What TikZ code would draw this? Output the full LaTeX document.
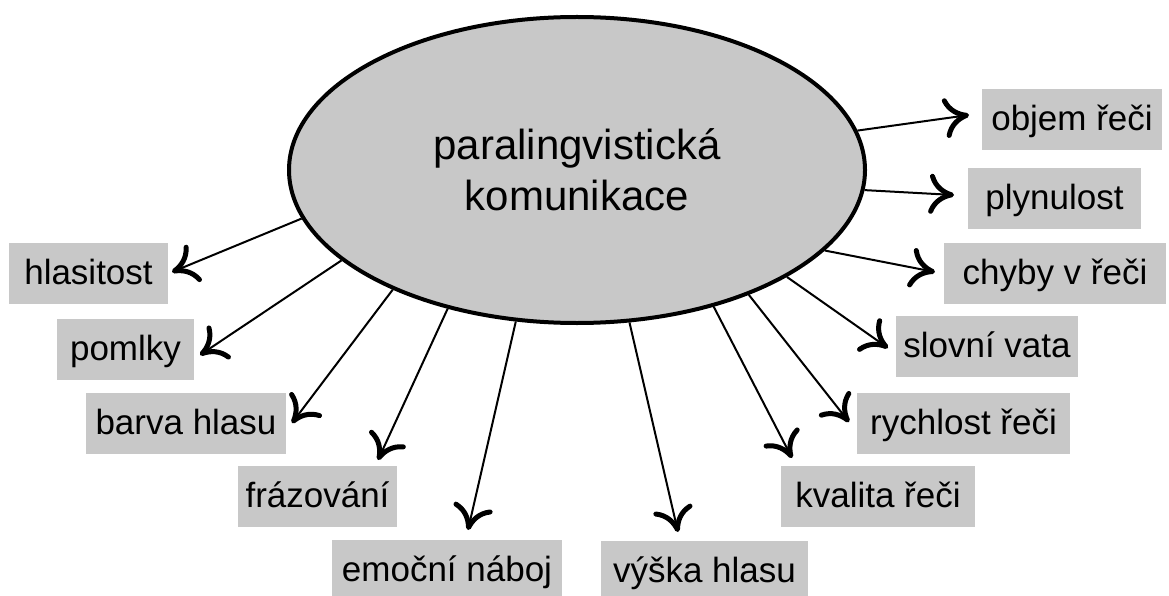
\documentclass[tikz,border=0pt]{standalone}
\usepackage{fontspec}
\setmainfont{Liberation Sans}
\usetikzlibrary{shapes.geometric}
\usetikzlibrary{arrows.meta}
\definecolor{boxgray}{RGB}{200,200,200}

\begin{document}
\begin{tikzpicture}[
    x=1pt, y=-1pt,
    tag/.style={fill=boxgray, inner sep=0pt, minimum height=61pt,
        text height=27pt, text depth=5pt, font=\fontsize{35}{42}\selectfont},
    link/.style={line width=2pt, -{Computer Modern Rightarrow[length=25pt, width=40pt, line width'=5pt]}},
]
    \useasboundingbox (0,0) rectangle (1169,596);

    % central ellipse
    \node[ellipse, draw, line width=4pt, fill=boxgray, inner sep=0pt,
          minimum width=576pt, minimum height=306pt, align=center,
          font=\fontsize{42}{51}\selectfont] (e) at (577,170)
        {paralingvistická\\komunikace};

    % right side
    \node[tag, minimum width=180pt] (objem) at (1072,120) {objem řeči};
    \node[tag, minimum width=173pt] (plyn) at (1054.5,198.5) {plynulost};
    \node[tag, minimum width=222pt] (chyby) at (1055,273) {chyby v řeči};
    \node[tag, minimum width=182pt] (vata) at (987,346.5) {slovní vata};
    \node[tag, minimum width=213pt] (rychl) at (963.5,423.5) {rychlost řeči};
    \node[tag, minimum width=194pt] (kval) at (878,496) {kvalita řeči};
    \node[tag, minimum width=207pt] (vyska) at (704.5,571) {výška hlasu};

    % left side
    \node[tag, minimum width=230pt] (emoc) at (447,570) {emoční náboj};
    \node[tag, minimum width=159pt] (fraz) at (317.5,496) {frázování};
    \node[tag, minimum width=200pt] (barva) at (186,423.5) {barva hlasu};
    \node[tag, minimum width=137pt] (pomlky) at (125.5,349.5) {pomlky};
    \node[tag, minimum width=159pt] (hlas) at (88.5,273.5) {hlasitost};

    % arrow tips
    \coordinate (t-objem) at (969,115);
    \coordinate (t-plyn) at (954,195);
    \coordinate (t-chyby) at (935,272);
    \coordinate (t-vata) at (888,348);
    \coordinate (t-rychl) at (849,422);
    \coordinate (t-kval) at (792,458);
    \coordinate (t-vyska) at (678,532);
    \coordinate (t-emoc) at (468,530);
    \coordinate (t-fraz) at (378,460);
    \coordinate (t-barva) at (292,423);
    \coordinate (t-pomlky) at (200,355);
    \coordinate (t-hlas) at (172,272);

    \draw[link] (e.8.7) -- (t-objem);
    \draw[link] (e.356.5) -- (t-plyn);
    \draw[link] (e.342.5) -- (t-chyby);
    \draw[link] (e.333.5) -- (t-vata);
    \draw[link] (e.324.5) -- (t-rychl);
    \draw[link] (e.315) -- (t-kval);
    \draw[link] (e.289.6) -- (t-vyska);
    \draw[link] (e.248.1) -- (t-emoc);
    \draw[link] (e.227.5) -- (t-fraz);
    \draw[link] (e.213.3) -- (t-barva);
    \draw[link] (e.201.2) -- (t-pomlky);
    \draw[link] (e.190.7) -- (t-hlas);
\end{tikzpicture}
\end{document}
